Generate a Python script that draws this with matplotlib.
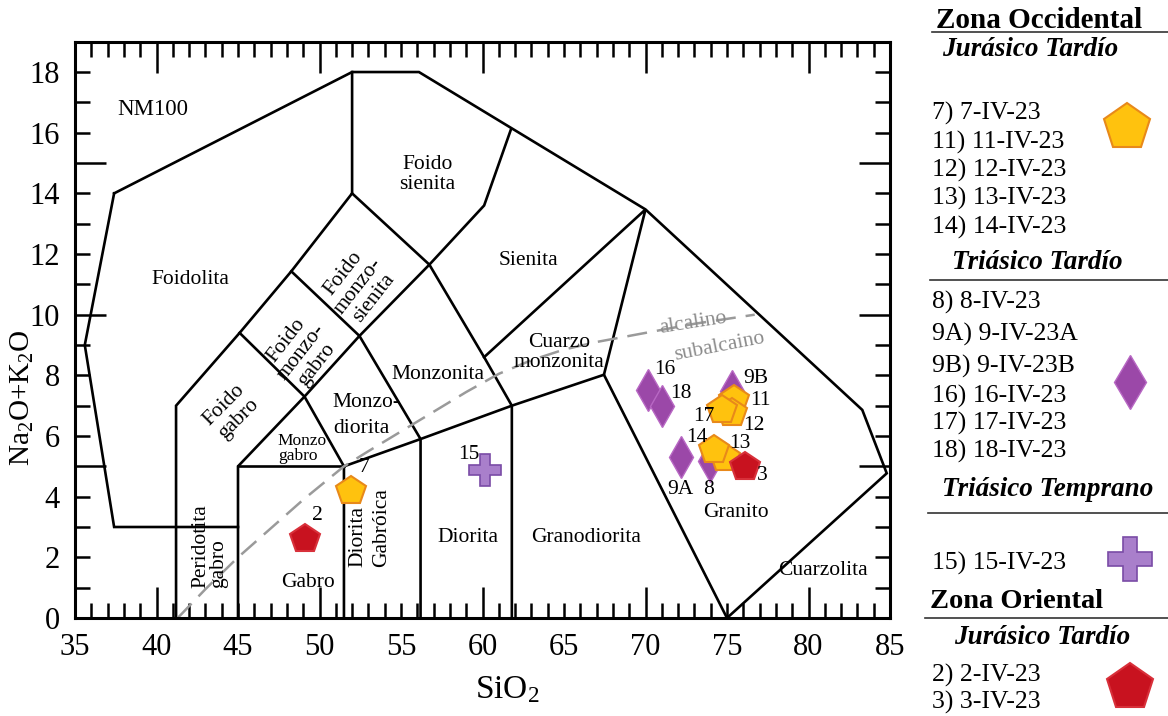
import numpy as np
import matplotlib
matplotlib.use('Agg')
import matplotlib.pyplot as plt
from matplotlib.lines import Line2D

plt.rcParams['font.family'] = ['Liberation Serif', 'DejaVu Serif']
plt.rcParams['mathtext.fontset'] = 'custom'
plt.rcParams['mathtext.rm'] = 'Liberation Serif'
plt.rcParams['mathtext.it'] = 'Liberation Serif:italic'
plt.rcParams['mathtext.bf'] = 'Liberation Serif:bold'

# ---------------- data ----------------
# Zona Occidental - Jurasico Tardio
jur_occ_labels = ['7', '11', '12', '13', '14', '17']
jur_occ_sio2 = [51.94, 75.4, 75.31, 74.9, 74.19, 74.7]
jur_occ_alk = [4.2, 7.2, 6.76, 5.27, 5.54, 6.86]
# Zona Occidental - Triasico Tardio
tri_tar_labels = ['8', '9A', '9B', '16', '18']
tri_tar_sio2 = [73.98, 72.15, 75.31, 70.17, 71.0]
tri_tar_alk = [5.19, 5.32, 7.49, 7.52, 7.0]
# Zona Occidental - Triasico Temprano
tri_tem_labels = ['15']
tri_tem_sio2 = [60.17]
tri_tem_alk = [4.88]
# Zona Oriental - Jurasico Tardio
jur_ori_labels = ['2', '3']
jur_ori_sio2 = [49.13, 76.13]
jur_ori_alk = [2.6, 4.99]

# Field boundaries of the TAS (plutonic) diagram
boundaries = [
    [(37.4, 14), (52, 18), (56.1, 18), (70, 13.47), (83.3, 6.86), (84.8, 4.77), (75, 0)],
    [(37.4, 14), (35.6, 9), (37.4, 3), (45, 3)],
    [(41.2, 0), (41.2, 7), (45.1, 9.4), (48.27, 11.43), (52, 14), (52, 18)],
    [(45, 0), (45, 5), (49.08, 7.3), (52.45, 9.3), (56.74, 11.65), (60.1, 13.6), (61.74, 16.1)],
    [(45, 5), (51.5, 5)],
    [(51.5, 0), (51.5, 5), (49.08, 7.3), (45.1, 9.4)],
    [(51.5, 5), (56.2, 5.9), (61.8, 7.0), (67.45, 8.02), (75, 0)],
    [(56.2, 0), (56.2, 5.9), (52.45, 9.3), (48.27, 11.43)],
    [(61.8, 0), (61.8, 7.0), (60.1, 8.6), (56.74, 11.65), (52, 14)],
    [(60.1, 8.6), (70, 13.47), (67.45, 8.02)],
]

# alkaline / subalkaline divide (Irvine & Baragar)
alk_div_x = [41.3, 43, 45, 47, 49, 51.5, 53, 55, 57, 59, 61, 63, 65, 67, 70, 73, 76.7]
alk_div_y = [0.0, 0.95, 2.0, 2.95, 3.9, 5.0, 5.5, 6.15, 6.8, 7.45, 8.05, 8.5, 8.85, 9.1, 9.4, 9.7, 10.0]

# field names: (text, x, y, size, rotation)
fields = [
    ('NM100', 39.8, 16.77, 16.5, 0),
    ('Foido\nsienita', 56.62, 14.62, 15.5, 0),
    ('Sienita', 62.8, 11.78, 15.5, 0),
    ('Foidolita', 42.1, 11.16, 15.5, 0),
    ('Foido\nmonzo-\nsienita', 52.4, 10.95, 15.5, 52),
    ('Foido\nmonzo-\ngabro', 48.9, 8.75, 15.5, 52),
    ('Foido\ngabro', 44.6, 6.8, 15.5, 45),
    ('Monzonita', 57.25, 8.02, 15.5, 0),
    ('Cuarzo\nmonzonita', 64.7, 8.75, 15.5, 0),
    ('Diorita', 59.13, 2.67, 15.5, 0),
    ('Granodiorita', 66.38, 2.64, 15.5, 0),
    ('Granito', 75.54, 3.47, 15.5, 0),
    ('Cuarzolita', 80.87, 1.55, 15.5, 0),
    ('Gabro', 49.27, 1.17, 15.5, 0),
]

# label offsets (pixels) for sample numbers
offsets = {'7': (13, 23), '11': (27, -1), '12': (22, -13), '13': (14, 15), '14': (-17, 12),
           '17': (-18, -7), '8': (-2, -29), '9A': (0, -33), '9B': (24, 12), '16': (17, 20),
           '18': (19, 12), '15': (-16, 15), '2': (12, 24), '3': (17, -9)}

# ---------------- figure ----------------
W, H = 1168, 716
fig = plt.figure(figsize=(W / 100, H / 100), dpi=100)
ax = fig.add_axes([75 / W, 1 - 618 / H, (890 - 75) / W, (618 - 41.7) / H])
ax.set_xlim(35, 85)
ax.set_ylim(0, 19)

for seg in boundaries:
    xs, ys = zip(*seg)
    ax.plot(xs, ys, color='black', lw=1.9, solid_joinstyle='miter', zorder=2)

ax.plot(alk_div_x, alk_div_y, color='#9a9a9a', lw=1.8, dashes=(8, 4), zorder=2)
ax.text(72.9, 9.73, 'alcalino', color='#8c8c8c', fontsize=15.5, rotation=9,
        ha='center', va='center', zorder=2)
ax.text(74.56, 8.94, 'subalcaino', color='#8c8c8c', fontsize=15.5, rotation=11,
        ha='center', va='center', zorder=2)

for txt, x, y, s, r in fields:
    ax.text(x, y, txt, fontsize=s, rotation=r, ha='center', va='center',
            linespacing=1.05, zorder=2)
ax.text(47.45, 5.58, 'Monzo\ngabro', fontsize=12.5, ha='left', va='center',
        linespacing=0.9, zorder=2)
ax.text(50.82, 6.68, 'Monzo-\ndiorita', fontsize=15.5, ha='left', va='center',
        linespacing=1.5, zorder=2)
ax.text(43.27, 0.98, 'Peridotita\ngabro', fontsize=15.5, rotation=90, ha='center',
        va='bottom', multialignment='left', linespacing=0.85, zorder=2)
ax.text(53.07, 1.69, 'Diorita\nGabróica', fontsize=15.5, rotation=90, ha='center',
        va='bottom', multialignment='left', linespacing=1.3, zorder=2)

# samples
c_orange, e_orange = '#FFC20E', '#E8891A'
c_purple, e_purple = '#9B48A8', '#B868C4'
c_lav, e_lav = '#A97FCB', '#7A4CA6'
c_red, e_red = '#C8121F', '#D8303A'

ax.plot(tri_tar_sio2, tri_tar_alk, ls='none', marker='d', ms=21, mfc=c_purple,
        mec=e_purple, mew=1.0, zorder=3)
ax.plot(jur_occ_sio2, jur_occ_alk, ls='none', marker='p', ms=22, mfc=c_orange,
        mec=e_orange, mew=1.5, zorder=4)
ax.plot(tri_tem_sio2, tri_tem_alk, ls='none', marker='P', ms=23, mfc=c_lav,
        mec=e_lav, mew=1.2, zorder=4)
ax.plot(jur_ori_sio2, jur_ori_alk, ls='none', marker='p', ms=22, mfc=c_red,
        mec=e_red, mew=1.5, zorder=5)

for labs, xs, ys in [(jur_occ_labels, jur_occ_sio2, jur_occ_alk),
                     (tri_tar_labels, tri_tar_sio2, tri_tar_alk),
                     (tri_tem_labels, tri_tem_sio2, tri_tem_alk),
                     (jur_ori_labels, jur_ori_sio2, jur_ori_alk)]:
    for lab, x, y in zip(labs, xs, ys):
        ax.annotate(lab, (x, y), xytext=offsets[lab], textcoords='offset pixels',
                    ha='center', va='center', fontsize=15.5, zorder=6)

# axes styling
for sp in ax.spines.values():
    sp.set_linewidth(2.2)
xt = np.arange(35, 86)
yt = np.arange(0, 19)
ax.set_xticks(xt)
ax.set_xticklabels([str(v) if v % 5 == 0 else '' for v in xt])
ax.set_yticks(yt)
ax.set_yticklabels([str(v) if v % 2 == 0 else '' for v in yt])
ax.tick_params(axis='both', which='major', direction='in', length=11, width=1.8,
               top=True, right=True, labelsize=22, pad=11)
for v, t in zip(xt, ax.xaxis.get_major_ticks()):
    if v % 10 == 0:
        t.tick1line.set_markersize(22)
        t.tick2line.set_markersize(22)
for v, t in zip(yt, ax.yaxis.get_major_ticks()):
    if v % 5 == 0:
        t.tick1line.set_markersize(22)
        t.tick2line.set_markersize(22)

fig.text(507 / W, 1 - 690 / H, 'SiO$_2$', fontsize=24, ha='center', va='center')
fig.text(22 / W, 1 - 398 / H, 'Na$_2$O+K$_2$O', fontsize=21, rotation=90,
         ha='center', va='center')

# ---------------- legend (right panel) ----------------
def fx(px):
    return px / W


def fy(py):
    return 1 - py / H


def hline(y, x0, x1=1168):
    fig.add_artist(Line2D([fx(x0), fx(x1)], [fy(y), fy(y)], color='#333333', lw=1.2))


def mark(x, y, **kw):
    fig.add_artist(Line2D([fx(x)], [fy(y)], ls='none', **kw))


LS = 18.5
fig.text(fx(936), fy(20), 'Zona Occidental', fontsize=21, weight='bold', ha='left', va='center')
hline(31.5, 932)
fig.text(fx(1030), fy(50), 'Jurásico Tardío', fontsize=19.5, weight='bold', style='italic',
         ha='center', va='center')
for txt, y in [('7) 7-IV-23', 113), ('11) 11-IV-23', 142), ('12) 12-IV-23', 170),
               ('13) 13-IV-23', 198), ('14) 14-IV-23', 227)]:
    fig.text(fx(932), fy(y), txt, fontsize=LS, ha='left', va='center')
mark(1127, 127, marker='p', ms=35, mfc=c_orange, mec=e_orange, mew=1.5)

fig.text(fx(1037), fy(263), 'Triásico Tardío', fontsize=19.5, weight='bold', style='italic',
         ha='center', va='center')
hline(280, 930)
for txt, y in [('8) 8-IV-23', 302), ('9A) 9-IV-23A', 334), ('9B) 9-IV-23B', 366),
               ('16) 16-IV-23', 396), ('17) 17-IV-23', 423), ('18) 18-IV-23', 451)]:
    fig.text(fx(932), fy(y), txt, fontsize=LS, ha='left', va='center')
mark(1130, 382, marker='d', ms=27, mfc=c_purple, mec=e_purple, mew=1.0)

fig.text(fx(1048), fy(490), 'Triásico Temprano', fontsize=19.5, weight='bold', style='italic',
         ha='center', va='center')
hline(513, 928)
fig.text(fx(932), fy(563), '15) 15-IV-23', fontsize=LS, ha='left', va='center')
mark(1130, 559, marker='P', ms=31, mfc=c_lav, mec=e_lav, mew=1.2)

fig.text(fx(930), fy(602), 'Zona Oriental', fontsize=20.5, weight='bold', ha='left', va='center')
hline(618, 925)
fig.text(fx(1042), fy(637), 'Jurásico Tardío', fontsize=19.5, weight='bold', style='italic',
         ha='center', va='center')
fig.text(fx(932), fy(675), '2) 2-IV-23', fontsize=LS, ha='left', va='center')
fig.text(fx(932), fy(702), '3) 3-IV-23', fontsize=LS, ha='left', va='center')
mark(1130, 687, marker='p', ms=35, mfc=c_red, mec=e_red, mew=1.5)

fig.savefig('out.png', dpi=100)
